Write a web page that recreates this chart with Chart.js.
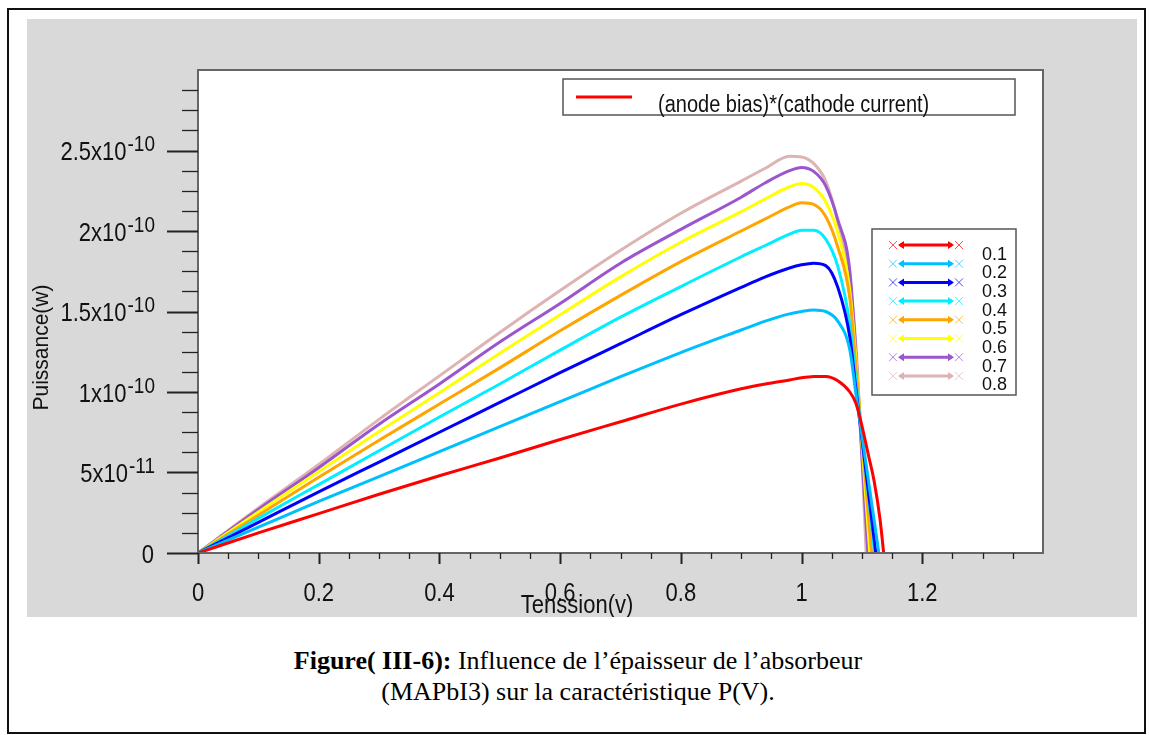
<!DOCTYPE html>
<html>
<head>
<meta charset="utf-8">
<script src="https://cdn.jsdelivr.net/npm/chart.js@4.4.1/dist/chart.umd.min.js"></script>
<style>
  body { margin: 0; background: #fff; width: 1149px; height: 735px; position: relative; overflow: hidden; }
  #frame { position: absolute; left: 7px; top: 8px; width: 1139px; height: 726px; border: 2px solid #111; box-sizing: border-box; }
  #panel { position: absolute; left: 27px; top: 19px; width: 1110px; height: 598px; background: #d9d9d9; }
  #caption { position: absolute; left: 128px; top: 645px; width: 900px; text-align: center;
    font-family: "Liberation Serif", "Times New Roman", serif; font-size: 26px; line-height: 31px; color: #000; }
</style>
</head>
<body>
<div id="frame"></div>
<div id="panel"><canvas id="pv-chart" width="1110" height="598"></canvas></div>
<div id="caption"><b>Figure( III-6):</b> Influence de l’épaisseur de l’absorbeur<br>(MAPbI3) sur la caractéristique P(V).</div>
<script>
// voltage grid (V) shared by all curves, power in units of 1e-10 W
const voltage = [0, 0.1, 0.2, 0.3, 0.4, 0.5, 0.6, 0.7, 0.8, 0.9, 0.94, 0.98, 1.0, 1.02, 1.04, 1.06, 1.08, 1.09, 1.10];
const p01 = [0, 0.125, 0.245, 0.365, 0.48, 0.59, 0.705, 0.815, 0.925, 1.02, 1.05, 1.075, 1.088, 1.096, 1.097, 1.07, 1.0, 0.93, 0.79];
const p02 = [0, 0.16, 0.32, 0.475, 0.63, 0.785, 0.94, 1.095, 1.245, 1.385, 1.44, 1.485, 1.50, 1.51, 1.50, 1.44, 1.26, 0.99, 0.73];
const p03 = [0, 0.19, 0.38, 0.565, 0.75, 0.935, 1.12, 1.30, 1.48, 1.65, 1.715, 1.77, 1.79, 1.80, 1.785, 1.65, 1.34, 1.02, 0.71];
const p04 = [0, 0.215, 0.425, 0.635, 0.845, 1.05, 1.26, 1.465, 1.655, 1.84, 1.91, 1.98, 2.005, 2.005, 1.95, 1.78, 1.42, 1.07, 0.72];
const p05 = [0, 0.235, 0.47, 0.70, 0.925, 1.15, 1.38, 1.60, 1.81, 2.00, 2.075, 2.15, 2.175, 2.165, 2.09, 1.90, 1.58, 1.16, 0.71];
const p06 = [0, 0.255, 0.505, 0.755, 0.995, 1.24, 1.48, 1.715, 1.93, 2.12, 2.20, 2.275, 2.295, 2.27, 2.18, 1.99, 1.63, 1.21, 0.68];
const p07 = [0, 0.27, 0.53, 0.80, 1.05, 1.31, 1.55, 1.80, 2.01, 2.21, 2.30, 2.375, 2.395, 2.37, 2.28, 2.07, 1.75, 1.24, 0.60];
const p08 = [0, 0.28, 0.55, 0.83, 1.10, 1.37, 1.63, 1.88, 2.11, 2.31, 2.39, 2.465, 2.46, 2.42, 2.31, 2.06, 1.69, 1.29, 0.59];
// the 0.1 curve bends later than the others
const redKneeV = [1.11, 1.12, 1.13];
const redKneeP = [0.62, 0.45, 0.21];
// open circuit voltage of each curve (P = 0)
const vocs = [1.136, 1.128, 1.123, 1.121, 1.116, 1.113, 1.110, 1.107];

const thicknessLabels = ['0.1', '0.2', '0.3', '0.4', '0.5', '0.6', '0.7', '0.8'];
const seriesColors = ['#ff0000', '#00bfff', '#0000ff', '#00eeff', '#ffa500', '#ffff00', '#9b55cf', '#ddb3b3'];

const xTicks = [0, 0.2, 0.4, 0.6, 0.8, 1, 1.2];
const xTickLabels = ['0', '0.2', '0.4', '0.6', '0.8', '1', '1.2'];
const yTicks = [0, 5e-11, 1e-10, 1.5e-10, 2e-10, 2.5e-10];
const yTickMantissa = ['0', '5x10', '1x10', '1.5x10', '2x10', '2.5x10'];
const yTickExp = ['', '-11', '-10', '-10', '-10', '-10'];

const xTitle = 'Tenssion(v)';
const yTitle = 'Puissance(w)';
const curveLabel = '(anode bias)*(cathode current)';

const UNIT = 1e-10;
const FONT = '"Liberation Sans", Arial, sans-serif';

function buildPoints(powers, i) {
  const pts = voltage.map((v, k) => ({ x: v, y: powers[k] * UNIT }));
  if (i === 0) {
    redKneeV.forEach((v, k) => pts.push({ x: v, y: redKneeP[k] * UNIT }));
  }
  pts.push({ x: vocs[i], y: 0 });
  return pts;
}

const allPowers = [p01, p02, p03, p04, p05, p06, p07, p08];

function text(ctx, str, x, y, size, align, sy) {
  ctx.save();
  ctx.translate(x, y);
  ctx.scale(1, sy);
  ctx.font = `${size}px ${FONT}`;
  ctx.textAlign = align;
  ctx.textBaseline = 'alphabetic';
  ctx.fillStyle = '#111';
  ctx.fillText(str, 0, 0);
  ctx.restore();
}

const frameAndLabels = {
  id: 'frameAndLabels',
  beforeDatasetsDraw(chart) {
    const { ctx, chartArea: a } = chart;
    ctx.save();
    ctx.fillStyle = '#fff';
    ctx.fillRect(a.left, a.top, a.right - a.left, a.bottom - a.top);
    ctx.restore();
  },
  afterDatasetsDraw(chart) {
    const { ctx, chartArea: a } = chart;
    const xs = chart.scales.x, ys = chart.scales.y;

    ctx.save();
    // plot border
    ctx.strokeStyle = '#666';
    ctx.lineWidth = 2;
    ctx.strokeRect(a.left, a.top, a.right - a.left, a.bottom - a.top);

    // y ticks: major every 5e-11, minor every 1.25e-11
    ctx.strokeStyle = '#222';
    for (let i = 0; i < 24; i++) {
      const py = Math.round(ys.getPixelForValue(i * 1.25e-11)) + 0.5;
      const major = i % 4 === 0;
      ctx.lineWidth = major ? 2 : 1.3;
      ctx.beginPath();
      ctx.moveTo(a.left - (major ? 31 : 16), py);
      ctx.lineTo(a.left, py);
      ctx.stroke();
    }
    // x ticks: major every 0.2, minor every 0.05
    for (let i = 0; i < 28; i++) {
      const px = Math.round(xs.getPixelForValue(i * 0.05)) + 0.5;
      const major = i % 4 === 0;
      ctx.lineWidth = major ? 2 : 1.3;
      ctx.beginPath();
      ctx.moveTo(px, a.bottom);
      ctx.lineTo(px, a.bottom + (major ? 11 : 6));
      ctx.stroke();
    }

    // y tick labels with superscript exponent
    yTicks.forEach((v, i) => {
      const py = ys.getPixelForValue(v);
      const xr = a.left - 43;
      let w = 0;
      if (yTickExp[i]) {
        ctx.font = `19px ${FONT}`;
        w = ctx.measureText(yTickExp[i]).width;
        text(ctx, yTickExp[i], xr, py + 0.5, 19, 'right', 1.2);
      }
      text(ctx, yTickMantissa[i], xr - w - 1, py + 9.5, 22, 'right', 1.2);
    });
    // x tick labels
    xTicks.forEach((v, i) => {
      text(ctx, xTickLabels[i], xs.getPixelForValue(v), a.bottom + 48, 22, 'center', 1.2);
    });

    // axis titles
    text(ctx, xTitle, xs.getPixelForValue(0.628), a.bottom + 60, 22, 'center', 1.2);
    ctx.save();
    ctx.translate(a.left - 150, (a.top + a.bottom) / 2 + 36);
    ctx.rotate(-Math.PI / 2);
    text(ctx, yTitle, 0, 0, 21, 'center', 1.05);
    ctx.restore();

    // top legend box
    const tx = a.left + 365, ty = a.top + 9;
    ctx.fillStyle = '#fff';
    ctx.fillRect(tx, ty, 452, 36);
    ctx.strokeStyle = '#555';
    ctx.lineWidth = 1.5;
    ctx.strokeRect(tx, ty, 452, 36);
    ctx.strokeStyle = seriesColors[0];
    ctx.lineWidth = 3;
    ctx.beginPath();
    ctx.moveTo(tx + 13, ty + 18);
    ctx.lineTo(tx + 69, ty + 18);
    ctx.stroke();
    text(ctx, curveLabel, tx + 95, ty + 33, 20, 'left', 1.15);

    // thickness legend box
    const lx = a.left + 674, ly = a.top + 159;
    ctx.fillStyle = '#fff';
    ctx.fillRect(lx, ly, 144, 166);
    ctx.strokeStyle = '#555';
    ctx.lineWidth = 1.5;
    ctx.strokeRect(lx, ly, 144, 166);
    thicknessLabels.forEach((lab, i) => {
      const y = ly + 16 + i * 18.7;
      const c = seriesColors[i];
      const x1 = lx + 24, x2 = lx + 84;
      ctx.strokeStyle = c;
      ctx.fillStyle = c;
      ctx.lineWidth = 3;
      ctx.beginPath();
      ctx.moveTo(x1 + 4, y);
      ctx.lineTo(x2 - 4, y);
      ctx.stroke();
      // arrow heads
      ctx.beginPath();
      ctx.moveTo(x1 + 2, y); ctx.lineTo(x1 + 8, y - 4); ctx.lineTo(x1 + 8, y + 4); ctx.closePath();
      ctx.moveTo(x2 - 2, y); ctx.lineTo(x2 - 8, y - 4); ctx.lineTo(x2 - 8, y + 4); ctx.closePath();
      ctx.fill();
      // cross markers at the ends
      ctx.globalAlpha = 0.7;
      ctx.lineWidth = 1;
      [x1 - 3, x2 + 3].forEach(cx => {
        ctx.beginPath();
        ctx.moveTo(cx - 4, y - 4); ctx.lineTo(cx + 4, y + 4);
        ctx.moveTo(cx - 4, y + 4); ctx.lineTo(cx + 4, y - 4);
        ctx.stroke();
      });
      ctx.globalAlpha = 1;
      text(ctx, lab, lx + 110, y + 14.5, 18, 'left', 1.05);
    });
    ctx.restore();
  }
};

new Chart(document.getElementById('pv-chart'), {
  type: 'line',
  data: {
    datasets: allPowers.map((p, i) => ({
      label: thicknessLabels[i],
      data: buildPoints(p, i),
      borderColor: seriesColors[i],
      borderWidth: 3,
      pointRadius: 0,
      fill: false,
      cubicInterpolationMode: 'monotone',
    }))
  },
  options: {
    responsive: false,
    animation: false,
    devicePixelRatio: 1,
    layout: { padding: { left: 171, top: 51, right: 94, bottom: 64 } },
    plugins: { legend: { display: false }, tooltip: { enabled: false } },
    scales: {
      x: { type: 'linear', min: 0, max: 1.4, display: false },
      y: { type: 'linear', min: 0, max: 3e-10, display: false },
    },
  },
  plugins: [frameAndLabels]
});
</script>
</body>
</html>
